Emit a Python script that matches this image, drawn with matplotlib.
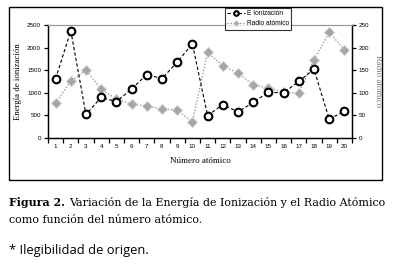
import numpy as np
import matplotlib.pyplot as plt
from matplotlib.patches import Rectangle

# datos
numero = np.arange(1, 21)
energia = [1312, 2372, 520, 900, 801, 1086, 1402, 1314, 1681, 2081,
           496, 738, 578, 787, 1012, 1000, 1251, 1521, 419, 590]
radio = [77, 126, 150, 108, 86, 75, 71, 64, 62, 35,
         190, 160, 143, 118, 110, 102, 99, 173, 234, 195]

W, H = 396, 265
fig = plt.figure(figsize=(W / 100, H / 100), dpi=100)

# marco exterior
fig.patches.append(Rectangle((9 / W, 1 - 180 / H), 373 / W, 173 / H,
                             transform=fig.transFigure, fill=False,
                             edgecolor="black", lw=1.0))

ax = fig.add_axes([48 / W, 1 - 138 / H, 304 / W, 113 / H])
ax2 = ax.twinx()

l1, = ax.plot(numero, energia, color="black", ls=(0, (3, 2)), lw=0.8,
              marker="o", ms=5.5, mfc="white", mec="black", mew=1.5, zorder=3)
l2, = ax2.plot(numero, radio, color="#8a8a8a", ls=(0, (1, 1.5)), lw=0.9,
               marker="D", ms=5, mfc="#a6a6a6", mec="#cfcfcf", mew=0.6)
ax.set_zorder(ax2.get_zorder() + 1)
ax.patch.set_visible(False)

ax.set_xlim(0.5, 20.5)
ax.set_ylim(0, 2500)
ax2.set_ylim(0, 250)

ax.set_xticks(numero)
ax.set_xticks(np.arange(0.5, 21, 1), minor=True)
ax.tick_params(axis="x", which="major", length=0, pad=4, labelsize=4.5)
ax.tick_params(axis="x", which="minor", length=3.5, width=0.9, direction="out")
ax.set_yticks(np.arange(0, 2501, 500))
ax.tick_params(axis="y", length=3, width=0.9, pad=2, labelsize=4.5)
ax2.set_yticks(np.arange(0, 251, 50))
ax2.tick_params(axis="y", length=3, width=0.9, pad=2, labelsize=4.5)

for a in (ax, ax2):
    for lab in a.get_xticklabels() + a.get_yticklabels():
        lab.set_family("Liberation Sans")
    a.spines["top"].set_color("#9a9a9a")
    a.spines["top"].set_linewidth(0.8)
    for s in ("left", "right", "bottom"):
        a.spines[s].set_linewidth(0.9)

ax.set_ylabel("Energía de ionización", family="Liberation Serif", fontsize=6.3,
              labelpad=4)
ax2.set_ylabel("Radio atómico", family="Liberation Serif", fontsize=6.3,
               rotation=-90, labelpad=9, color="#777777")
ax.set_xlabel("Número atómico", family="Liberation Serif", fontsize=6.5,
              labelpad=6)

leg = fig.legend([l1, l2], ["E Ionización", "Radio atómico"],
                 loc="upper left", bbox_to_anchor=(225 / W, 1 - 8 / H),
                 prop={"family": "Liberation Sans", "size": 4.8},
                 frameon=True, fancybox=False, edgecolor="black",
                 handlelength=2.6, handletextpad=0.3, borderpad=0.35,
                 labelspacing=0.45, markerscale=0.6, borderaxespad=0)
leg.get_frame().set_linewidth(0.8)

# pie de figura
cap = dict(family="DejaVu Serif", fontsize=7.9, va="baseline")
t = fig.text(9 / W, 1 - 206 / H, "Figura 2.", weight="bold", **cap)
fig.canvas.draw()
x_fin = t.get_window_extent().x1 / W
fig.text(x_fin + 4 / W, 1 - 206 / H,
         "Variación de la Energía de Ionización y el Radio Atómico", **cap)
fig.text(9 / W, 1 - 223 / H, "como función del número atómico.", **cap)
fig.text(9 / W, 1 - 254 / H, "* Ilegibilidad de origen.",
         family="Open Sans", fontsize=9.3, va="baseline")

fig.savefig("out.png", dpi=100)
